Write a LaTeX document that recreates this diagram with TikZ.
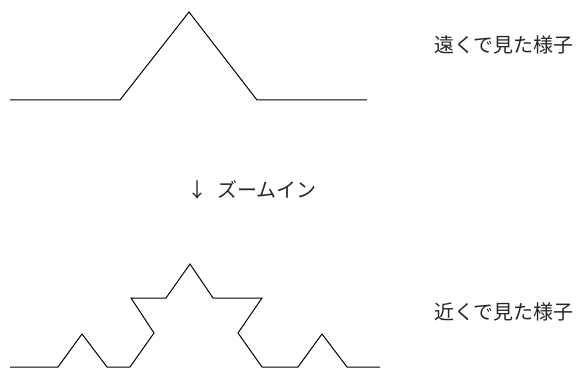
\documentclass[tikz,border=0pt]{standalone}
\usepackage{fontspec}
\newfontfamily\jpfont{Noto Sans CJK JP}
\usepackage{tikz}
\usetikzlibrary{positioning}
\tikzset{
  koch/.style={line width=1pt,black,line join=miter},
  lbl/.style={font=\jpfont\fontsize{20}{24}\selectfont,inner sep=0pt,anchor=west,text=black!85}
}
\begin{document}
\begin{tikzpicture}[x=1pt,y=-1pt]
\useasboundingbox (0,0) rectangle (579,369);
% far view (level 1)
\draw[koch] (10,100)--(120,100)--(189,12)--(257,100)--(367,100);
% near view (level 2)
\draw[koch] (10,367)--(58,367)--(82,334)--(107,367)--(130,367)--(154,333)
  --(131,298)--(166,298)--(190,264)--(213,298)--(262,298)--(238,333)
  --(262,367)--(298,367)--(322,334)--(347,367)--(380,367);
\node[lbl] (far) at (434,45) {遠くで見た様子};
\node[lbl] (zoom) at (187,190) {↓\enspace ズームイン};
\node[lbl] (near) at (434,312) {近くで見た様子};
\end{tikzpicture}
\end{document}
